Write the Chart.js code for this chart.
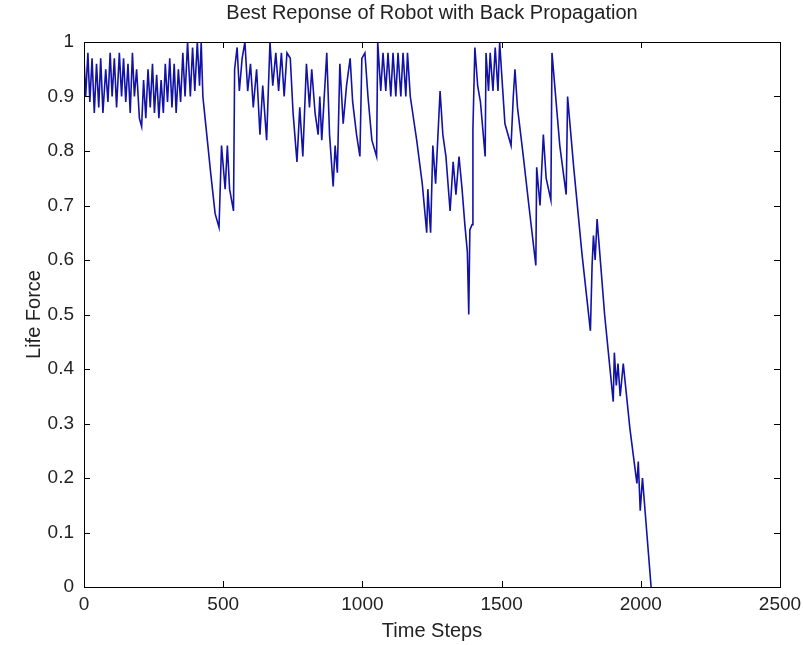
<!DOCTYPE html>
<html>
  <head>
    <meta charset="UTF-8">
    <title>Best Reponse of Robot with Back Propagation</title>
    <script src="https://cdn.jsdelivr.net/npm/chart.js"></script>
    <style>
      body { margin: 0; background: #fff; }
    </style>
  </head>
  <body>
    <canvas id="lifeChart" width="803" height="645"></canvas>
    <script>
      // turning points of the life force trace
      const timeSteps = [
        0, 6, 14, 21, 29, 37, 45, 53, 60, 68, 78, 86, 94, 101, 109, 117, 127, 135, 142, 150,
        158, 166, 174, 181, 189, 199, 207, 214, 222, 230, 238, 246, 253, 261, 269, 277, 285, 292, 300, 308,
        316, 324, 331, 339, 347, 355, 363, 372, 382, 390, 398, 407, 415, 421, 427, 441, 455, 471, 485, 494,
        507, 515, 523, 537, 541, 550, 558, 568, 578, 588, 598, 608, 620, 632, 642, 656, 668, 678, 689, 699,
        709, 719, 729, 741, 751, 765, 775, 786, 799, 810, 818, 830, 841, 847, 854, 872, 882, 895, 902, 910,
        919, 931, 943, 956, 965, 979, 991, 998, 1009, 1020, 1034, 1051, 1055, 1066, 1074, 1084, 1092, 1102, 1110, 1120,
        1128, 1138, 1146, 1156, 1162, 1172, 1195, 1215, 1231, 1235, 1245, 1253, 1263, 1279, 1289, 1300, 1315, 1326, 1336, 1347,
        1358, 1368, 1377, 1382, 1386, 1394, 1397, 1404, 1414, 1424, 1441, 1444, 1453, 1459, 1469, 1477, 1487, 1493, 1503, 1512,
        1534, 1542, 1548, 1557, 1578, 1598, 1623, 1626, 1638, 1650, 1660, 1677, 1681, 1709, 1732, 1737, 1759, 1789, 1819, 1825,
        1830, 1836, 1843, 1870, 1901, 1905, 1912, 1918, 1926, 1937, 1961, 1986, 1991, 1998, 2006, 2037
      ];
      const lifeForce = [
        0.97, 0.90, 0.98, 0.89, 0.97, 0.87, 0.96, 0.88, 0.97, 0.87, 0.95, 0.89, 0.98, 0.90, 0.97, 0.88, 0.98, 0.90, 0.97, 0.89,
        0.96, 0.87, 0.98, 0.90, 0.95, 0.86, 0.845, 0.93, 0.86, 0.95, 0.88, 0.96, 0.87, 0.94, 0.86, 0.93, 0.87, 0.96, 0.89, 0.97,
        0.88, 0.96, 0.87, 0.95, 0.89, 0.98, 0.90, 1.00, 0.90, 0.99, 0.91, 1.00, 0.92, 1.00, 0.90, 0.83, 0.76, 0.685, 0.66, 0.81,
        0.73, 0.81, 0.73, 0.69, 0.95, 0.99, 0.91, 0.97, 1.00, 0.91, 0.96, 0.88, 0.95, 0.83, 0.92, 0.82, 1.00, 0.92, 0.98, 0.91,
        0.98, 0.90, 0.98, 0.97, 0.87, 0.78, 0.88, 0.79, 0.96, 0.88, 0.95, 0.87, 0.83, 0.90, 0.82, 0.98, 0.83, 0.735, 0.81, 0.76,
        0.96, 0.85, 0.92, 0.97, 0.89, 0.83, 0.79, 0.97, 0.98, 0.90, 0.82, 0.79, 1.00, 0.91, 0.98, 0.91, 0.98, 0.90, 0.98, 0.90,
        0.98, 0.90, 0.98, 0.90, 0.98, 0.90, 0.82, 0.74, 0.65, 0.73, 0.65, 0.81, 0.74, 0.91, 0.83, 0.79, 0.69, 0.78, 0.72, 0.79,
        0.73, 0.665, 0.615, 0.50, 0.655, 0.665, 0.84, 0.99, 0.92, 0.89, 0.79, 0.98, 0.91, 0.98, 0.91, 0.99, 0.91, 1.00, 0.92, 0.85,
        0.81, 0.90, 0.95, 0.88, 0.79, 0.70, 0.59, 0.77, 0.70, 0.83, 0.75, 0.71, 0.98, 0.81, 0.72, 0.90, 0.77, 0.61, 0.47, 0.59,
        0.645, 0.60, 0.675, 0.50, 0.34, 0.43, 0.37, 0.41, 0.35, 0.41, 0.29, 0.19, 0.23, 0.14, 0.20, 0.00
      ];
      const xTicks = [0, 500, 1000, 1500, 2000, 2500];
      const yTicks = [0, 0.1, 0.2, 0.3, 0.4, 0.5, 0.6, 0.7, 0.8, 0.9, 1];

      const fontFamily = "'Liberation Sans', Arial, sans-serif";

      // MATLAB-like frame: box, inward ticks on all sides, title over the axes
      const matlabFrame = {
        id: 'matlabFrame',
        afterDraw(chart) {
          const { ctx, chartArea: a, scales } = chart;
          ctx.save();
          ctx.strokeStyle = '#000';
          ctx.lineWidth = 1;
          ctx.strokeRect(a.left + 0.5, a.top + 0.5, a.right - a.left, a.bottom - a.top);
          ctx.beginPath();
          xTicks.forEach(v => {
            const x = Math.round(scales.x.getPixelForValue(v)) + 0.5;
            ctx.moveTo(x, a.bottom); ctx.lineTo(x, a.bottom - 6);
            ctx.moveTo(x, a.top); ctx.lineTo(x, a.top + 6);
          });
          yTicks.forEach(v => {
            const y = Math.round(scales.y.getPixelForValue(v)) + 0.5;
            ctx.moveTo(a.left, y); ctx.lineTo(a.left + 6, y);
            ctx.moveTo(a.right, y); ctx.lineTo(a.right - 6, y);
          });
          ctx.stroke();
          ctx.fillStyle = '#222';
          ctx.font = '20px ' + fontFamily;
          ctx.textAlign = 'center';
          ctx.textBaseline = 'middle';
          ctx.fillText('Best Reponse of Robot with Back Propagation', (a.left + a.right) / 2, 13);
          ctx.restore();
        }
      };

      new Chart(document.getElementById('lifeChart'), {
        type: 'line',
        data: {
          datasets: [{
            data: timeSteps.map((t, i) => ({ x: t, y: lifeForce[i] })),
            borderColor: '#1212a6',
            borderWidth: 1.6,
            pointRadius: 0,
            tension: 0
          }]
        },
        options: {
          responsive: false,
          animation: false,
          layout: { padding: { left: 22, right: 23, top: 42, bottom: 0 } },
          plugins: {
            legend: { display: false },
            tooltip: { enabled: false },
            title: { display: false }
          },
          scales: {
            x: {
              type: 'linear',
              min: 0,
              max: 2500,
              afterFit: s => { s.height = 58; s.paddingLeft = 0; s.paddingRight = 0; },
              afterBuildTicks: s => { s.ticks = xTicks.map(v => ({ value: v })); },
              ticks: { color: '#222', padding: 6, maxRotation: 0, callback: v => String(v), font: { family: fontFamily, size: 19 } },
              grid: { drawOnChartArea: false, drawTicks: false },
              border: { display: false },
              title: { display: true, text: 'Time Steps', color: '#222', padding: { top: 0, bottom: 2 }, font: { family: fontFamily, size: 20 } }
            },
            y: {
              min: 0,
              max: 1,
              afterFit: s => { s.width = 62; s.paddingTop = 0; s.paddingBottom = 0; },
              afterBuildTicks: s => { s.ticks = yTicks.map(v => ({ value: v })); },
              ticks: { color: '#222', padding: 10, callback: v => String(v), font: { family: fontFamily, size: 19 } },
              grid: { drawOnChartArea: false, drawTicks: false },
              border: { display: false },
              title: { display: true, text: 'Life Force', color: '#222', padding: 0, font: { family: fontFamily, size: 20 } }
            }
          }
        },
        plugins: [matlabFrame]
      });
    </script>
  </body>
</html>
